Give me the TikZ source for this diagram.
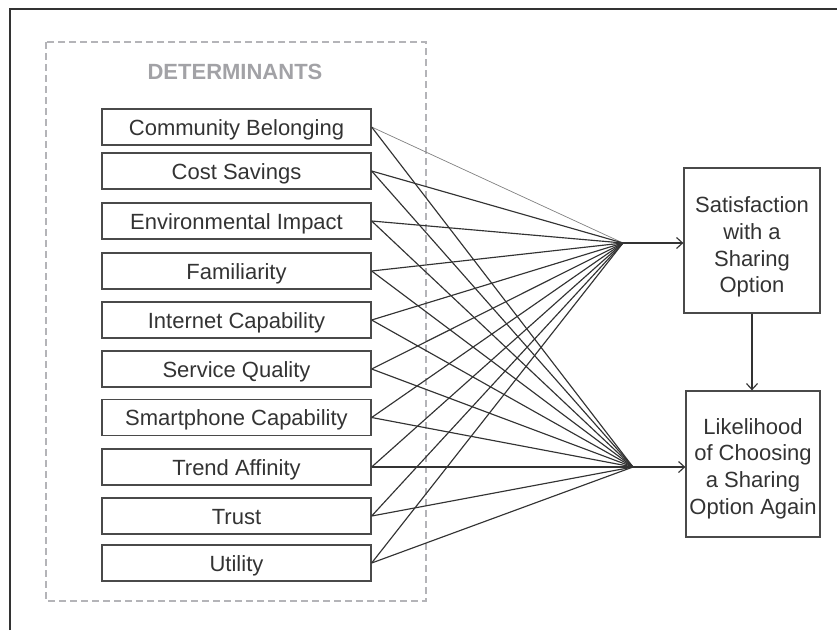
\documentclass[tikz,border=0pt]{standalone}
\usepackage{fontspec}
\setmainfont{Liberation Sans}
\usetikzlibrary{arrows.meta}
\definecolor{ink}{HTML}{333333}
\definecolor{boxline}{HTML}{4A4A4A}
\definecolor{dashgray}{HTML}{B4B4B8}
\definecolor{headgray}{HTML}{A2A2A6}
\begin{document}
\begin{tikzpicture}[x=1pt,y=-1pt,
  factor/.style={draw=boxline,line width=1.3pt,minimum width=269pt,minimum height=36pt,
    inner sep=0pt,text height=20pt,text depth=3.5pt,
    font=\fontsize{22}{26}\selectfont,text=ink},
  outcome/.style={draw=boxline,line width=1.3pt,inner sep=0pt},
  outtext/.style={inner sep=0pt,align=center,font=\fontsize{22}{26.7}\selectfont,text=ink},
  link/.style={draw=ink,line width=1.15pt},
  faint/.style={draw=gray,line width=0.7pt},
  flow/.style={draw=ink,line width=1.15pt,-{Straight Barb[length=6pt,width=11pt]}}]
\useasboundingbox (0,0) rectangle (837,630);
% page frame
\draw[ink,line width=2pt] (10,630) -- (10,9) -- (837,9);
% group of determinants
\draw[dashgray,line width=1.5pt,dash pattern=on 7pt off 4pt] (46,42) rectangle (426,601);
\node[font=\bfseries\fontsize{22}{24}\selectfont,text=headgray] (head) at (235,72) {DETERMINANTS};
% determinant boxes
\node[factor] (cb) at (236.5,127) {Community Belonging};
\node[factor] (cs) at (236.5,171) {Cost Savings};
\node[factor] (ei) at (236.5,221) {Environmental Impact};
\node[factor] (fa) at (236.5,271) {Familiarity};
\node[factor] (ic) at (236.5,320) {Internet Capability};
\node[factor] (sq) at (236.5,369) {Service Quality};
\node[factor] (sc) at (236.5,417.5) {Smartphone Capability};
\node[factor] (ta) at (236.5,467) {Trend Affinity};
\node[factor] (tr) at (236.5,516) {Trust};
\node[factor] (ut) at (236.5,563) {Utility};
% outcome boxes and their captions
\node[outcome,minimum width=136pt,minimum height=145pt] (sat) at (752,240.5) {};
\node[outtext,yshift=-6.5pt] (satText) at (sat.center)
  {Satisfaction\\with a\\Sharing\\Option};
\node[outcome,minimum width=134pt,minimum height=146pt] (lik) at (753,464) {};
\node[outtext,yshift=-4.5pt] (likText) at (lik.center)
  {Likelihood\\of Choosing\\a Sharing\\Option Again};
% junction points where the links meet
\coordinate (j1) at (623,243);
\coordinate (j2) at (633,467);
% links from every determinant to both junctions
\draw[faint] (cb.east) -- (j1);
\draw[link] (cb.east) -- (j2);
\foreach \n in {cs,ei,fa,ic,sq,sc,ta,tr,ut}{
  \draw[link] (\n.east) -- (j1);
  \draw[link] (\n.east) -- (j2);
}
% arrows into the outcomes
\draw[flow] (j1) -- (j1 -| sat.west);
\draw[flow] (j2) -- (j2 -| lik.west);
\draw[flow] (sat.south) -- (sat.south |- lik.north);
\end{tikzpicture}
\end{document}
